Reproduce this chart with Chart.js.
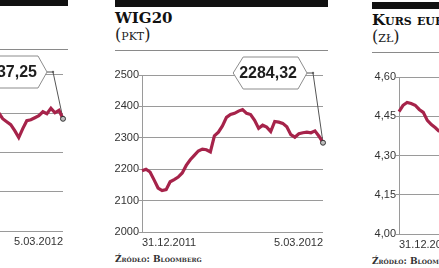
<!DOCTYPE html>
<html>
<head>
<meta charset="utf-8">
<script src="https://cdn.jsdelivr.net/npm/chart.js@4.4.1/dist/chart.umd.min.js"></script>
<style>
html, body { margin: 0; padding: 0; width: 439px; height: 268px; overflow: hidden; background: #fff; }
.panel { position: absolute; top: 0; width: 213px; height: 268px; }
.bar { position: absolute; left: 0; top: 0; width: 213px; height: 7px; background: #111; }
.title { position: absolute; left: 0; top: 9px; font: bold 15px 'DejaVu Serif', serif; font-variant: small-caps; color: #111; white-space: nowrap; }
.unit { position: absolute; left: 0; top: 25px; font: 16px 'DejaVu Serif', serif; font-variant: small-caps; color: #222; white-space: nowrap; }
.sep { position: absolute; left: 0; top: 50px; width: 213px; height: 1px; background: #8a8a8a; }
.src { position: absolute; left: 0; top: 254px; font: bold 9px 'DejaVu Serif', serif; font-variant: small-caps; color: #333; white-space: nowrap; }
canvas { position: absolute; left: -4px; top: 52px; }
</style>
</head>
<body>

<div class="panel" id="p-wig" style="left:-145px; top:-1px">
  <div class="bar"></div>
  <div class="title">WIG</div>
  <div class="unit">(pkt)</div>
  <div class="sep"></div>
  <canvas id="wig-chart" width="217" height="200"></canvas>
  <div class="src">Źródło: Bloomberg</div>
</div>

<div class="panel" id="p-wig20" style="left:115px">
  <div class="bar"></div>
  <div class="title">WIG20</div>
  <div class="unit">(pkt)</div>
  <div class="sep"></div>
  <canvas id="wig20-chart" width="217" height="200"></canvas>
  <div class="src">Źródło: Bloomberg</div>
</div>

<div class="panel" id="p-eur" style="left:372px; top:2px">
  <div class="bar"></div>
  <div class="title">Kurs euro</div>
  <div class="unit">(zł)</div>
  <div class="sep"></div>
  <canvas id="eur-chart" width="217" height="200"></canvas>
  <div class="src">Źródło: Bloomberg</div>
</div>

<script>
// Daily closes 31.12.2011 - 5.03.2012 (46 sessions)
const firstDate = '31.12.2011';
const lastDate = '5.03.2012';
const sessionCount = 46;

// WIG20, all sessions
const wig20Values = [
    2195, 2200, 2191, 2166, 2140, 2132, 2135, 2160, 2167, 2175,
    2188, 2212, 2230, 2244, 2258, 2264, 2262, 2255, 2306, 2318,
    2338, 2365, 2374, 2378, 2385, 2390, 2378, 2374, 2356, 2330,
    2340, 2334, 2320, 2352, 2350, 2346, 2335, 2310, 2302, 2313,
    2316, 2318, 2316, 2322, 2305, 2284.32
];

// WIG, only the last sessions are visible (from session 29 on)
const wigFirstIndex = 28;
const wigValues = [
    42557, 42051, 41443, 41140, 40836, 40228, 39519, 40431, 41241, 41342,
    41545, 41747, 42152, 41950, 42500, 42050, 42300, 41437.25
];

// EUR/PLN, only the first sessions are visible
const eurValues = [4.468, 4.492, 4.503, 4.499, 4.492, 4.476, 4.465, 4.434, 4.418, 4.406, 4.391];

// axis ranges
const wig20Axis = { min: 2000, max: 2500, step: 100 };
const wigAxis = { min: 30000, max: 46000, step: 4000 };
const eurAxis = { min: 4.0, max: 4.6, step: 0.15 };

const lineColor = '#a6234a';
const gridColor = '#9a9a9a';
const tickFont = { family: "'Liberation Sans', Arial, sans-serif", size: 11 };

// only first and last session get a date under the axis
const dateLabels = [firstDate, ...Array(sessionCount - 2).fill(''), lastDate];

const plainFmt = v => String(v);
const commaFmt = v => Number(v).toFixed(2).replace('.', ',');

// hexagonal value box with a leader line to the last point
const calloutPlugin = {
    id: 'callout',
    beforeDatasetsDraw(chart, args, opts) {
        if (!opts.show) return;
        const ds = chart.data.datasets[0].data;
        const lastIdx = ds.length - 1;
        const pt = chart.getDatasetMeta(0).data[lastIdx];
        const area = chart.chartArea;
        const ctx = chart.ctx;
        const text = commaFmt(ds[lastIdx]);

        ctx.save();
        ctx.font = "bold 16px 'Liberation Sans', Arial, sans-serif";
        const w = ctx.measureText(text).width;
        const tipX = area.right - 16;
        const cy = area.top - 2;
        const textRight = tipX - 10;
        const x0 = textRight - w - 6;
        const h = 16;

        // leader
        ctx.strokeStyle = '#555';
        ctx.lineWidth = 1;
        ctx.beginPath();
        ctx.moveTo(tipX, cy);
        ctx.lineTo(tipX + 6, cy);
        ctx.lineTo(pt.x, pt.y);
        ctx.stroke();
        ctx.fillStyle = '#666';
        ctx.beginPath();
        ctx.arc(tipX + 6, cy, 1.2, 0, Math.PI * 2);
        ctx.fill();

        // box
        ctx.beginPath();
        ctx.moveTo(x0, cy);
        ctx.lineTo(x0 + 10, cy - h);
        ctx.lineTo(tipX - 9, cy - h);
        ctx.lineTo(tipX, cy);
        ctx.lineTo(tipX - 9, cy + h);
        ctx.lineTo(x0 + 10, cy + h);
        ctx.closePath();
        ctx.fillStyle = '#fff';
        ctx.fill();
        ctx.strokeStyle = '#8c8c8c';
        ctx.stroke();

        ctx.fillStyle = '#1e1e1e';
        ctx.textAlign = 'right';
        ctx.textBaseline = 'middle';
        ctx.fillText(text, textRight, cy + 1);
        ctx.restore();
    }
};

function makeChart(canvasId, values, axis, fmt, showCallout) {
    const lastIdx = values.length - 1;
    return new Chart(document.getElementById(canvasId), {
        type: 'line',
        data: {
            labels: dateLabels,
            datasets: [{
                data: values,
                borderColor: lineColor,
                borderWidth: 3.2,
                tension: 0,
                spanGaps: false,
                pointRadius: c => (showCallout && c.dataIndex === lastIdx ? 2.5 : 0),
                pointBackgroundColor: '#bdbdbd',
                pointBorderColor: '#333',
                pointBorderWidth: 1
            }]
        },
        options: {
            responsive: false,
            animation: false,
            layout: { padding: { top: 23, right: 2, left: 0, bottom: 0 } },
            plugins: {
                legend: { display: false },
                tooltip: { enabled: false },
                callout: { show: showCallout }
            },
            scales: {
                x: {
                    grid: { display: false, drawTicks: false },
                    border: { display: false },
                    ticks: {
                        autoSkip: false,
                        maxRotation: 0,
                        align: 'inner',
                        padding: 4,
                        font: tickFont,
                        color: '#333'
                    },
                    afterFit: s => { s.height = 20; }
                },
                y: {
                    min: axis.min,
                    max: axis.max,
                    ticks: {
                        stepSize: axis.step,
                        callback: fmt,
                        padding: 0,
                        font: tickFont,
                        color: '#333'
                    },
                    grid: { color: gridColor, lineWidth: 1, tickLength: 3 },
                    border: { color: gridColor, width: 1 },
                    afterFit: s => { s.width = 31; }
                }
            }
        },
        plugins: [calloutPlugin]
    });
}

const wigSeries = Array(wigFirstIndex).fill(null).concat(wigValues);

makeChart('wig-chart', wigSeries, wigAxis, plainFmt, true);
makeChart('wig20-chart', wig20Values, wig20Axis, plainFmt, true);
makeChart('eur-chart', eurValues, eurAxis, commaFmt, false);
</script>
</body>
</html>
